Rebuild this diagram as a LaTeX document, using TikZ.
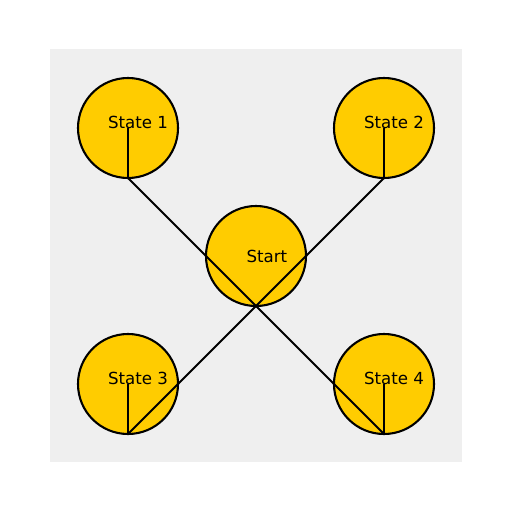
\documentclass[tikz,border=0pt]{standalone}
\usepackage{fontspec}
\setmainfont{DejaVu Sans}
\begin{document}
\begin{tikzpicture}[x=1bp,y=-1bp,
  state/.style={circle,draw=black,fill=stateyellow,line width=2.08bp,minimum size=100bp,inner sep=0pt,outer sep=0pt},
  lbl/.style={anchor=base west,inner sep=0pt,outer sep=0pt,font=\fontsize{16.7pt}{20pt}\selectfont},
  conn/.style={draw=black,line width=2.08bp}]
\definecolor{stateyellow}{HTML}{FFCC00}
\definecolor{bggray}{HTML}{EFEFEF}
\useasboundingbox (0,0) rectangle (512,512);
\fill[bggray] (49.5,49.5) rectangle (462,462);
\node[state] (s1) at (128,128) {};
\node[state] (s2) at (384,128) {};
\node[state] (st) at (256,256) {};
\node[state] (s3) at (128,384) {};
\node[state] (s4) at (384,384) {};
\draw[conn] (s1.south) -- (st.south) -- (s4.south);
\draw[conn] (s2.south) -- (st.south) -- (s3.south);
\draw[conn] (s1.center) -- (s1.south);
\draw[conn] (s2.center) -- (s2.south);
\draw[conn] (s3.center) -- (s3.south);
\draw[conn] (s4.center) -- (s4.south);
\node[lbl] (t1) at (108,128.5) {State 1};
\node[lbl] (t2) at (364,128.5) {State 2};
\node[lbl] (t3) at (108,384.5) {State 3};
\node[lbl] (t4) at (364,384.5) {State 4};
\node[lbl] (tst) at (246.5,262.5) {Start};
\end{tikzpicture}
\end{document}
